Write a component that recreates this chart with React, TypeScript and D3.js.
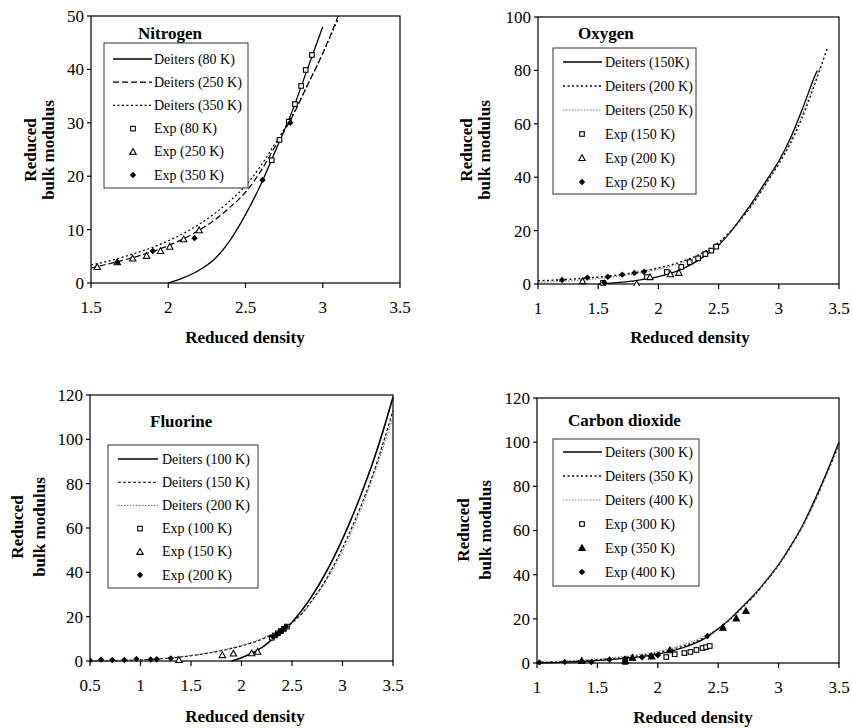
import React from 'react';
import * as d3 from 'd3';

type Pt = [number, number];

// ---------- Nitrogen ----------
const nDeiters80: Pt[] = [[2.0, 0], [2.1, 1.0], [2.2, 2.4], [2.3, 4.5], [2.4, 8.0], [2.5, 12.8], [2.6, 18.5], [2.7, 25.2], [2.8, 32], [2.9, 40], [3.0, 48]];
const nDeiters250: Pt[] = [[1.5, 2.8], [1.6, 3.5], [1.7, 4.2], [1.8, 5.0], [1.9, 5.9], [2.0, 7.0], [2.1, 8.3], [2.2, 9.9], [2.3, 11.8], [2.4, 14.2], [2.5, 17.0], [2.6, 21.0], [2.7, 26.0], [2.8, 31.0], [2.9, 37.0], [3.0, 43.0], [3.1, 50]];
const nDeiters350: Pt[] = [[1.5, 3.4], [1.6, 4.0], [1.7, 4.8], [1.8, 5.7], [1.9, 6.7], [2.0, 7.9], [2.1, 9.3], [2.2, 11.0], [2.3, 13.0], [2.4, 15.4], [2.5, 18.2], [2.6, 22.0], [2.7, 26.5], [2.8, 31.2], [2.9, 37.0], [3.0, 43.0], [3.1, 49.5]];
const nExp80: Pt[] = [[2.67, 23.0], [2.72, 26.8], [2.78, 30.2], [2.82, 33.5], [2.86, 36.9], [2.89, 39.9], [2.93, 42.7]];
const nExp250: Pt[] = [[1.54, 3.0], [1.67, 3.9], [1.77, 4.6], [1.86, 5.1], [1.95, 6.0], [2.01, 6.8], [2.10, 8.2], [2.20, 9.9]];
const nExp350: Pt[] = [[1.67, 3.9], [1.90, 6.0], [2.17, 8.4], [2.61, 19.3], [2.79, 30.0]];

// ---------- Oxygen ----------
const oDeiters150: Pt[] = [[1.5, 0], [1.6, 0.3], [1.7, 0.7], [1.8, 1.2], [1.9, 1.9], [2.0, 2.8], [2.1, 4.0], [2.2, 5.7], [2.3, 8.0], [2.4, 11.0], [2.5, 14.5], [2.6, 19.5], [2.7, 25.5], [2.8, 32], [2.9, 39], [3.0, 46], [3.1, 55], [3.2, 66], [3.3, 78], [3.32, 80]];
const oDeiters200: Pt[] = [[1.0, 1.2], [1.2, 1.6], [1.4, 2.2], [1.6, 3.0], [1.8, 4.2], [2.0, 6.0], [2.2, 8.5], [2.4, 12.5], [2.5, 15.5], [2.6, 19.8], [2.7, 25], [2.8, 31], [2.9, 38], [3.0, 45], [3.1, 53], [3.2, 63], [3.3, 75], [3.4, 88]];
const oDeiters250: Pt[] = [[1.0, 0.6], [1.2, 1.0], [1.4, 1.6], [1.6, 2.5], [1.8, 3.8], [2.0, 5.5], [2.2, 8.0], [2.4, 12.0], [2.5, 15], [2.6, 19.5], [2.7, 25], [2.8, 31], [2.9, 38], [3.0, 45.5], [3.1, 54], [3.2, 64], [3.3, 76], [3.35, 82]];
const oExp150: Pt[] = [[1.54, 0.4], [1.905, 2.6], [2.07, 4.5], [2.19, 6.4], [2.26, 8.2], [2.33, 9.6], [2.39, 11.2], [2.44, 12.5], [2.48, 14]];
const oExp200: Pt[] = [[1.37, 1.1], [1.82, 0], [1.93, 2.6], [2.10, 3.7], [2.17, 4.2]];
const oExp250: Pt[] = [[1.20, 1.5], [1.41, 2.4], [1.55, 0.6], [1.58, 2.7], [1.70, 3.5], [1.80, 4.1], [1.88, 4.6]];

// ---------- Fluorine ----------
const fDeiters100: Pt[] = [[1.9, 0], [2.0, 1.5], [2.1, 3.5], [2.2, 6], [2.3, 9.5], [2.4, 13], [2.5, 17.5], [2.6, 23], [2.7, 29.5], [2.8, 37], [2.9, 45.5], [3.0, 55], [3.1, 65.5], [3.2, 77], [3.3, 89.5], [3.4, 103.5], [3.5, 119]];
const fDeiters150: Pt[] = [[0.5, 0], [0.8, 0.2], [1.0, 0.5], [1.2, 1.0], [1.4, 1.8], [1.6, 3.0], [1.8, 4.6], [2.0, 6.8], [2.2, 9.8], [2.4, 14.2], [2.5, 17.2], [2.6, 21.5], [2.7, 27.5], [2.8, 34], [2.9, 42], [3.0, 51], [3.1, 61], [3.2, 72], [3.3, 84], [3.4, 98], [3.5, 113]];
const fDeiters200: Pt[] = [[0.5, 0.1], [0.8, 0.3], [1.0, 0.6], [1.2, 1.1], [1.4, 2.0], [1.6, 3.2], [1.8, 4.9], [2.0, 7.1], [2.2, 10.2], [2.4, 14.5], [2.5, 17.5], [2.6, 21.5], [2.7, 27], [2.8, 33.5], [2.9, 41], [3.0, 49.5], [3.1, 59.5], [3.2, 70.5], [3.3, 82.5], [3.4, 96], [3.5, 110]];
const fExp100: Pt[] = [[2.30, 10.5], [2.33, 11.5], [2.36, 12.5], [2.39, 13.5], [2.42, 14.5], [2.45, 15.5]];
const fExp150: Pt[] = [[1.38, 0.5], [1.81, 2.7], [1.92, 3.4], [2.10, 3.5], [2.16, 4.2]];
const fExp200: Pt[] = [[0.5, 0.2], [0.61, 0.6], [0.72, 0.4], [0.84, 0.5], [0.96, 0.9], [1.10, 0.7], [1.16, 0.8], [1.30, 1.2], [2.31, 11], [2.35, 12], [2.38, 13], [2.41, 14], [2.44, 15.5]];

// ---------- Carbon dioxide ----------
const cDeiters300: Pt[] = [[1.0, 0], [1.2, 0.3], [1.4, 0.8], [1.6, 1.5], [1.8, 2.5], [2.0, 4.0], [2.2, 6.8], [2.4, 11.5], [2.5, 15.5], [2.6, 20], [2.7, 25.5], [2.8, 31], [2.9, 37.5], [3.0, 44.5], [3.1, 53], [3.2, 62.5], [3.3, 74], [3.4, 86.5], [3.5, 100]];
const cDeiters350: Pt[] = [[1.0, 0.3], [1.2, 0.6], [1.4, 1.1], [1.6, 1.9], [1.8, 3.0], [2.0, 4.7], [2.2, 7.5], [2.4, 12], [2.5, 15.5], [2.6, 19.8], [2.7, 25], [2.8, 30.6], [2.9, 37.2], [3.0, 44.3], [3.1, 52.6], [3.2, 62], [3.3, 73.2], [3.4, 85.8], [3.5, 99]];
const cDeiters400: Pt[] = [[1.0, 0.5], [1.2, 0.9], [1.4, 1.5], [1.6, 2.3], [1.8, 3.5], [2.0, 5.3], [2.2, 8.2], [2.4, 12.6], [2.5, 15.8], [2.6, 20], [2.7, 25.2], [2.8, 30.8], [2.9, 37.3], [3.0, 44.4], [3.1, 52.6], [3.2, 62], [3.3, 73], [3.4, 85.5], [3.5, 98.5]];
const cExp300: Pt[] = [[1.73, 0.5], [2.07, 2.7], [2.14, 4.0], [2.22, 4.5], [2.27, 5.0], [2.32, 5.9], [2.37, 6.8], [2.40, 7.2], [2.43, 7.7]];
const cExp350: Pt[] = [[1.37, 1.0], [1.73, 1.0], [1.79, 2.4], [1.95, 3.0], [2.10, 5.8], [2.54, 16], [2.65, 20.2], [2.73, 23.6]];
const cExp400: Pt[] = [[1.02, 0.2], [1.23, 0.5], [1.45, 0.4], [1.60, 1.6], [1.73, 2.0], [1.87, 2.6], [1.94, 3.2], [2.00, 3.5], [2.41, 12.2]];

// tick values
const nXTicks = [1.5, 2, 2.5, 3, 3.5];
const nYTicks = [0, 10, 20, 30, 40, 50];
const oXTicks = [1, 1.5, 2, 2.5, 3, 3.5];
const oYTicks = [0, 20, 40, 60, 80, 100];
const fXTicks = [0.5, 1, 1.5, 2, 2.5, 3, 3.5];
const fYTicks = [0, 20, 40, 60, 80, 100, 120];
const cXTicks = [1, 1.5, 2, 2.5, 3, 3.5];
const cYTicks = [0, 20, 40, 60, 80, 100, 120];

const titles = ['Nitrogen', 'Oxygen', 'Fluorine', 'Carbon dioxide'];
const nLabels = ['Deiters (80 K)', 'Deiters (250 K)', 'Deiters (350 K)', 'Exp (80 K)', 'Exp (250 K)', 'Exp (350 K)'];
const oLabels = ['Deiters (150K)', 'Deiters (200 K)', 'Deiters (250 K)', 'Exp (150 K)', 'Exp (200 K)', 'Exp (250 K)'];
const fLabels = ['Deiters (100 K)', 'Deiters (150 K)', 'Deiters (200 K)', 'Exp (100 K)', 'Exp (150 K)', 'Exp (200 K)'];
const cLabels = ['Deiters (300 K)', 'Deiters (350 K)', 'Deiters (400 K)', 'Exp (300 K)', 'Exp (350 K)', 'Exp (400 K)'];

const FONT = "'Liberation Serif', 'DejaVu Serif', serif";

type LineStyle = { stroke: string; width: number; dash?: string };
type Shape = 'square' | 'triangle' | 'triangleFilled' | 'diamond';

interface PanelCfg {
  title: string;
  titleX: number; titleY: number; titleAnchor?: string;
  l: number; r: number; t: number; b: number;
  xDomain: [number, number]; yDomain: [number, number];
  xTicks: number[]; yTicks: number[];
  curves: { data: Pt[]; style: LineStyle }[];
  exps: { data: Pt[]; shape: Shape }[];
  labels: string[];
  leg: { x: number; y: number; w: number; h: number; row0: number; dy: number; lx0: number; lx1: number; tx: number; mx: number };
  yl: { x1: number; x2: number; cy: number };
  xl: { cx: number; y: number };
}

const SOLID: LineStyle = { stroke: '#000', width: 1.3 };

const panels: PanelCfg[] = [
  {
    title: titles[0], titleX: 170, titleY: 39, titleAnchor: 'middle',
    l: 91, r: 400, t: 16, b: 283,
    xDomain: [1.5, 3.5], yDomain: [0, 50], xTicks: nXTicks, yTicks: nYTicks,
    curves: [
      { data: nDeiters80, style: SOLID },
      { data: nDeiters250, style: { stroke: '#000', width: 1.2, dash: '6,3' } },
      { data: nDeiters350, style: { stroke: '#000', width: 1.2, dash: '2,2.5' } },
    ],
    exps: [{ data: nExp80, shape: 'square' }, { data: nExp250, shape: 'triangle' }, { data: nExp350, shape: 'diamond' }],
    labels: nLabels,
    leg: { x: 104, y: 43, w: 144, h: 145, row0: 59, dy: 23.2, lx0: 113, lx1: 152, tx: 154, mx: 133 },
    yl: { x1: 36, x2: 54, cy: 150 },
    xl: { cx: 245, y: 343 },
  },
  {
    title: titles[1], titleX: 578, titleY: 39,
    l: 538, r: 839, t: 17, b: 284,
    xDomain: [1, 3.5], yDomain: [0, 100], xTicks: oXTicks, yTicks: oYTicks,
    curves: [
      { data: oDeiters150, style: SOLID },
      { data: oDeiters200, style: { stroke: '#000', width: 1.4, dash: '2,2.5' } },
      { data: oDeiters250, style: { stroke: '#666', width: 0.9, dash: '1.5,1.5' } },
    ],
    exps: [{ data: oExp150, shape: 'square' }, { data: oExp200, shape: 'triangle' }, { data: oExp250, shape: 'diamond' }],
    labels: oLabels,
    leg: { x: 553, y: 48, w: 143, h: 146, row0: 62, dy: 24, lx0: 563, lx1: 602, tx: 605, mx: 582 },
    yl: { x1: 472, x2: 490, cy: 150 },
    xl: { cx: 690, y: 343 },
  },
  {
    title: titles[2], titleX: 150, titleY: 427,
    l: 90, r: 393, t: 395, b: 661,
    xDomain: [0.5, 3.5], yDomain: [0, 120], xTicks: fXTicks, yTicks: fYTicks,
    curves: [
      { data: fDeiters100, style: { stroke: '#000', width: 1.6 } },
      { data: fDeiters150, style: { stroke: '#000', width: 1.1, dash: '3,2' } },
      { data: fDeiters200, style: { stroke: '#555', width: 0.9, dash: '1.5,1.5' } },
    ],
    exps: [{ data: fExp100, shape: 'square' }, { data: fExp150, shape: 'triangle' }, { data: fExp200, shape: 'diamond' }],
    labels: fLabels,
    leg: { x: 108, y: 445, w: 150, h: 143, row0: 459, dy: 23.2, lx0: 118, lx1: 158, tx: 162, mx: 140 },
    yl: { x1: 23, x2: 45, cy: 527 },
    xl: { cx: 245, y: 722 },
  },
  {
    title: titles[3], titleX: 568, titleY: 426,
    l: 537, r: 839, t: 398, b: 663,
    xDomain: [1, 3.5], yDomain: [0, 120], xTicks: cXTicks, yTicks: cYTicks,
    curves: [
      { data: cDeiters300, style: SOLID },
      { data: cDeiters350, style: { stroke: '#000', width: 1.3, dash: '2,2.5' } },
      { data: cDeiters400, style: { stroke: '#777', width: 0.9, dash: '1.5,1.5' } },
    ],
    exps: [{ data: cExp300, shape: 'square' }, { data: cExp350, shape: 'triangleFilled' }, { data: cExp400, shape: 'diamond' }],
    labels: cLabels,
    leg: { x: 553, y: 439, w: 146, h: 147, row0: 452, dy: 24, lx0: 563, lx1: 602, tx: 605, mx: 582 },
    yl: { x1: 469, x2: 491, cy: 530 },
    xl: { cx: 693, y: 723 },
  },
];

function Marker({ shape, x, y }: { shape: Shape; x: number; y: number }) {
  if (shape === 'square') {
    return <rect x={x - 2.3} y={y - 2.3} width={4.6} height={4.6} fill="#fff" stroke="#000" strokeWidth={1.1} />;
  }
  if (shape === 'triangle' || shape === 'triangleFilled') {
    const s = 3.2;
    const p = `${x},${y - s} ${x + s},${y + s * 0.8} ${x - s},${y + s * 0.8}`;
    return <polygon points={p} fill={shape === 'triangle' ? '#fff' : '#000'} stroke="#000" strokeWidth={1.1} />;
  }
  const s = 3.2;
  return <polygon points={`${x},${y - s} ${x + s},${y} ${x},${y + s} ${x - s},${y}`} fill="#000" />;
}

function Panel({ p, idx }: { p: PanelCfg; idx: number }) {
  const x = d3.scaleLinear().domain(p.xDomain).range([p.l, p.r]);
  const y = d3.scaleLinear().domain(p.yDomain).range([p.b, p.t]);
  const line = d3.line<Pt>().x(d => x(d[0])).y(d => y(d[1])).curve(d3.curveMonotoneX);
  const clipId = `clip${idx}`;
  const fmt = (v: number) => String(v);
  return (
    <g>
      <defs>
        <clipPath id={clipId}>
          <rect x={p.l} y={p.t - 2} width={p.r - p.l + 2} height={p.b - p.t + 4} />
        </clipPath>
      </defs>
      <rect x={p.l} y={p.t} width={p.r - p.l} height={p.b - p.t} fill="#fff" stroke="#000" strokeWidth={1.2} />
      {p.xTicks.map(t => (
        <g key={'x' + t}>
          <line x1={x(t)} x2={x(t)} y1={p.b} y2={p.b + 5} stroke="#000" strokeWidth={1.2} />
          <text x={x(t)} y={p.b + 30} textAnchor="middle" fontSize={17}>{fmt(t)}</text>
        </g>
      ))}
      {p.yTicks.map(t => (
        <g key={'y' + t}>
          <line x1={p.l - 4} x2={p.l} y1={y(t)} y2={y(t)} stroke="#000" strokeWidth={1.2} />
          <text x={p.l - 7} y={y(t)} dy="0.35em" textAnchor="end" fontSize={17}>{fmt(t)}</text>
        </g>
      ))}
      <g clipPath={`url(#${clipId})`}>
        {p.curves.map((c, i) => (
          <path key={i} d={line(c.data) || ''} fill="none" stroke={c.style.stroke} strokeWidth={c.style.width} strokeDasharray={c.style.dash} />
        ))}
        {p.exps.map((e, i) => (
          <g key={'e' + i}>
            {e.data.map((d, j) => <Marker key={j} shape={e.shape} x={x(d[0])} y={y(d[1])} />)}
          </g>
        ))}
      </g>
      <text x={p.titleX} y={p.titleY} textAnchor={p.titleAnchor || 'start'} fontSize={17} fontWeight="bold">{p.title}</text>
      <rect x={p.leg.x} y={p.leg.y} width={p.leg.w} height={p.leg.h} fill="#fff" stroke="#333" strokeWidth={1} />
      {p.labels.map((lab, i) => {
        const ry = p.leg.row0 + i * p.leg.dy;
        return (
          <g key={'l' + i}>
            {i < 3 ? (
              <line x1={p.leg.lx0} x2={p.leg.lx1} y1={ry} y2={ry} stroke={p.curves[i].style.stroke} strokeWidth={p.curves[i].style.width} strokeDasharray={p.curves[i].style.dash} />
            ) : (
              <Marker shape={p.exps[i - 3].shape} x={p.leg.mx} y={ry} />
            )}
            <text x={p.leg.tx} y={ry} dy="0.33em" fontSize={14}>{lab}</text>
          </g>
        );
      })}
      <text x={p.xl.cx} y={p.xl.y} textAnchor="middle" fontSize={17} fontWeight="bold">Reduced density</text>
      <text transform={`translate(${p.yl.x1},${p.yl.cy}) rotate(-90)`} textAnchor="middle" fontSize={17} fontWeight="bold">Reduced</text>
      <text transform={`translate(${p.yl.x2},${p.yl.cy}) rotate(-90)`} textAnchor="middle" fontSize={17} fontWeight="bold">bulk modulus</text>
    </g>
  );
}

export default function App() {
  return (
    <svg width={852} height={728} style={{ position: 'absolute', left: 0, top: 0, background: '#fff', fontFamily: FONT }}>
      <rect width={852} height={728} fill="#fff" />
      {panels.map((p, i) => <Panel key={i} p={p} idx={i} />)}
    </svg>
  );
}
